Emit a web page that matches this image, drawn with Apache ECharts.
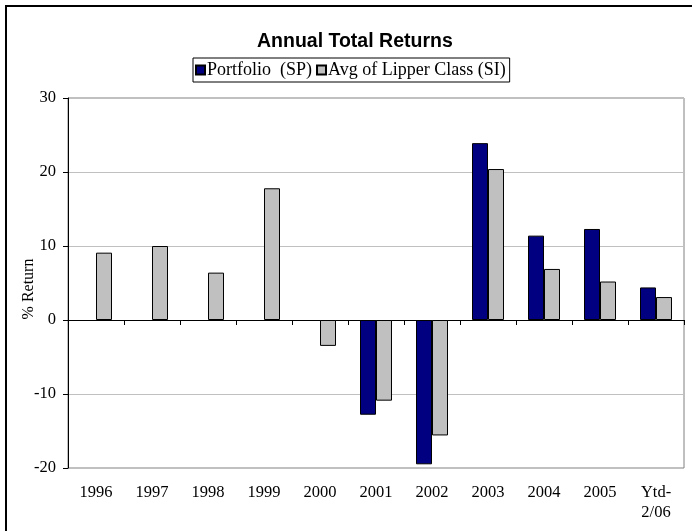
<!DOCTYPE html>
<html>
<head>
<meta charset="utf-8">
<script src="https://cdn.jsdelivr.net/npm/echarts@6/dist/echarts.min.js"></script>
<style>
  html, body { margin: 0; padding: 0; background: #fff; }
  #chart { width: 692px; height: 531px; }
</style>
</head>
<body>
<div id="chart"></div>
<script>
// Calendar-year buckets plus the year-to-date period
const categories = ['1996', '1997', '1998', '1999', '2000', '2001', '2002', '2003', '2004', '2005', 'Ytd-\n2/06'];
// Fund returns (%), no history before 2001
const portfolioSP = [null, null, null, null, null, -12.8, -19.5, 23.9, 11.4, 12.3, 4.4];
// Peer group average returns (%)
const lipperSI = [9.1, 10.0, 6.4, 17.8, -3.5, -10.9, -15.6, 20.4, 6.9, 5.2, 3.1];
// Value axis ticks
const yTicks = [-20, -10, 0, 10, 20, 30];

const serif = "'Liberation Serif', 'Times New Roman', serif";
const sans = "'Liberation Sans', Arial, sans-serif";

const chart = echarts.init(document.getElementById('chart'), null, { renderer: 'canvas' });

chart.setOption({
  backgroundColor: '#ffffff',
  animation: false,
  graphic: [{
    type: 'rect',
    shape: { x: 6, y: 6, width: 700, height: 540 },
    style: { fill: 'none', stroke: '#000000', lineWidth: 2 },
    silent: true
  }],
  title: {
    text: 'Annual Total Returns',
    left: 252,
    top: 27,
    textStyle: { fontFamily: sans, fontSize: 19.5, fontWeight: 'bold', color: '#000' }
  },
  legend: {
    top: 58,
    left: 193,
    padding: [3, 4, 3, 2],
    itemGap: 4,
    itemWidth: 9,
    itemHeight: 9,
    borderColor: '#000',
    borderWidth: 1,
    backgroundColor: '#fff',
    icon: 'rect',
    textStyle: { fontFamily: serif, fontSize: 18, color: '#000', padding: [0, 0, 0, -3] },
    data: ['Portfolio  (SP)', 'Avg of Lipper Class (SI)']
  },
  grid: {
    left: 68,
    right: 8,
    top: 98,
    bottom: 63,
    show: true,
    borderColor: '#808080',
    borderWidth: 1
  },
  xAxis: [{
    type: 'category',
    data: categories,
    position: 'bottom',
    axisLine: { show: false, onZero: false },
    axisTick: { show: false },
    axisLabel: {
      margin: 15,
      fontFamily: serif,
      fontSize: 16.5,
      color: '#000',
      lineHeight: 20,
      interval: 0
    }
  }, {
    type: 'category',
    data: categories,
    position: 'bottom',
    axisLine: { show: true, onZero: true, lineStyle: { color: '#000', width: 1 } },
    axisTick: { show: true, length: 5, lineStyle: { color: '#000' } },
    axisLabel: { show: false },
    splitLine: { show: false }
  }],
  yAxis: {
    type: 'value',
    min: yTicks[0],
    max: yTicks[yTicks.length - 1],
    interval: 10,
    name: '% Return',
    nameLocation: 'middle',
    nameGap: 31,
    nameMoveOverlap: false,
    nameTextStyle: { fontFamily: serif, fontSize: 16, color: '#000', padding: [0, 12, 0, 0] },
    axisLine: { show: true, lineStyle: { color: '#000', width: 1 } },
    axisTick: { show: true, length: 5, lineStyle: { color: '#000' } },
    axisLabel: { margin: 12, fontFamily: serif, fontSize: 16.5, color: '#000' },
    splitLine: { show: true, lineStyle: { color: '#c0c0c0', width: 1 } }
  },
  series: [{
    name: 'Portfolio  (SP)',
    type: 'bar',
    xAxisIndex: 0,
    data: portfolioSP,
    barWidth: 16,
    barGap: '0%',
    itemStyle: { color: '#000080', borderColor: '#000', borderWidth: 1 }
  }, {
    name: 'Avg of Lipper Class (SI)',
    type: 'bar',
    xAxisIndex: 0,
    data: lipperSI,
    barWidth: 16,
    barGap: '0%',
    itemStyle: { color: '#c0c0c0', borderColor: '#000', borderWidth: 1 }
  }]
});
</script>
</body>
</html>
